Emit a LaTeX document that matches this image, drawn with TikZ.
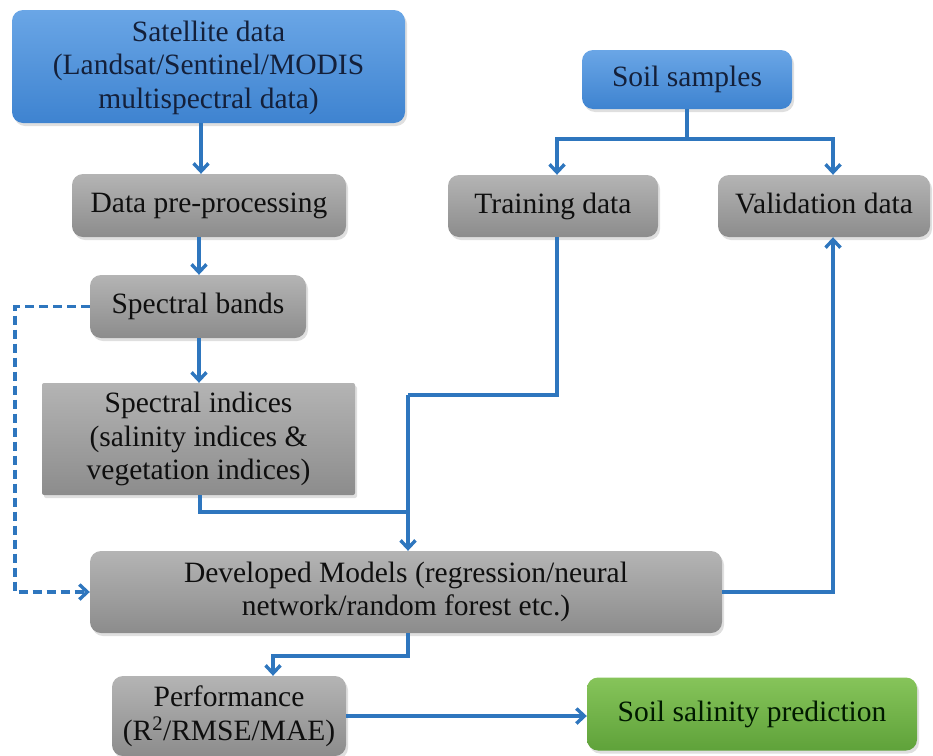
\documentclass[tikz,border=0pt]{standalone}
\usepackage{fontspec}
\setmainfont{Liberation Serif}
\usetikzlibrary{arrows.meta,shadows}
\definecolor{linkblue}{HTML}{2E76BE}
\definecolor{bluetop}{HTML}{6AA6E6}
\definecolor{bluebot}{HTML}{3E83D0}
\definecolor{graytop}{HTML}{B4B4B4}
\definecolor{graybot}{HTML}{8C8C8C}
\definecolor{greentop}{HTML}{86C45A}
\definecolor{greenbot}{HTML}{5FA23A}
\definecolor{navytext}{HTML}{14203A}
\tikzset{
  box/.style={rounded corners=11pt, align=center, inner sep=0pt,
    font=\fontsize{29.5}{33.5}\selectfont, text=black!94,
    drop shadow={shadow xshift=2pt, shadow yshift=-3pt, opacity=0.25}},
  bluebox/.style={box, top color=bluetop, bottom color=bluebot, text=navytext},
  graybox/.style={box, top color=graytop, bottom color=graybot},
  greenbox/.style={box, top color=greentop, bottom color=greenbot, text=black!90!green},
  link/.style={draw=linkblue, line width=3.4pt, -{Straight Barb[length=8pt,width=15pt,line width=3.4pt]}},
  plain/.style={draw=linkblue, line width=3.4pt},
}
\begin{document}
\begin{tikzpicture}[x=1pt,y=-1pt]
\useasboundingbox (0,0) rectangle (933,755);
% boxes (centre, size in px); text nudged slightly downward
\node[bluebox, minimum width=393pt, minimum height=113pt, text depth=4pt] (sat) at (208.5,66.5)
  {Satellite data\\(Landsat/Sentinel/MODIS\\multispectral data)};
\node[graybox, minimum width=274pt, minimum height=63pt] (pre) at (209,205.5) {Data pre-processing};
\node[graybox, minimum width=216pt, minimum height=63pt] (bands) at (198,306.5) {Spectral bands};
\node[graybox, rounded corners=2pt, minimum width=313pt, minimum height=112pt] (ind) at (198.5,439)
  {\rule{0pt}{6pt}Spectral indices\\(salinity indices \&\\vegetation indices)};
\node[graybox, minimum width=632pt, minimum height=82pt] (model) at (406,592)
  {Developed Models (regression/neural\\network/random forest etc.)};
\node[graybox, minimum width=234pt, minimum height=80pt] (perf) at (229,716)
  {Performance\\(R\textsuperscript{2}/RMSE/MAE)};
\node[greenbox, minimum width=330pt, minimum height=73pt] (pred) at (752,714) {Soil salinity prediction};
\node[bluebox, minimum width=210pt, minimum height=59pt] (soil) at (687,79.5) {Soil samples};
\node[graybox, minimum width=210pt, minimum height=62pt] (train) at (553,206) {Training data};
\node[graybox, minimum width=212pt, minimum height=62pt] (valid) at (824,206) {Validation data\vphantom{g}};
% helper points
\coordinate (split) at (687,139);
\coordinate (join) at (408,395);
% connectors
\draw[link] (sat.south -| 201,0) -- (pre.north -| 201,0);
\draw[link] (pre.south -| 199,0) -- (bands.north -| 199,0);
\draw[link] (bands.south -| 199,0) -- (ind.north -| 199,0);
\draw[plain] (soil.south) -- (split);
\draw[link] (split) -| (train.north -| 557,0);
\draw[link] (split) -| (valid.north -| 833,0);
\draw[plain] (train.south -| 557,0) |- (join);
\draw[link] (join) -- (model.north -| join);
\draw[plain] (ind.south -| 200,0) |- (408,512);
\draw[link] (model.east) -| (valid.south -| 833,0);
\draw[link] (model.south -| join) |- (273,656) -- (perf.north -| 273,0);
\draw[link] (perf.east) -- (perf.east -| pred.west);
\draw[link, dashed, dash pattern=on 9pt off 5pt] (bands.west) -| (15,450) |- (model.west);
\end{tikzpicture}
\end{document}
